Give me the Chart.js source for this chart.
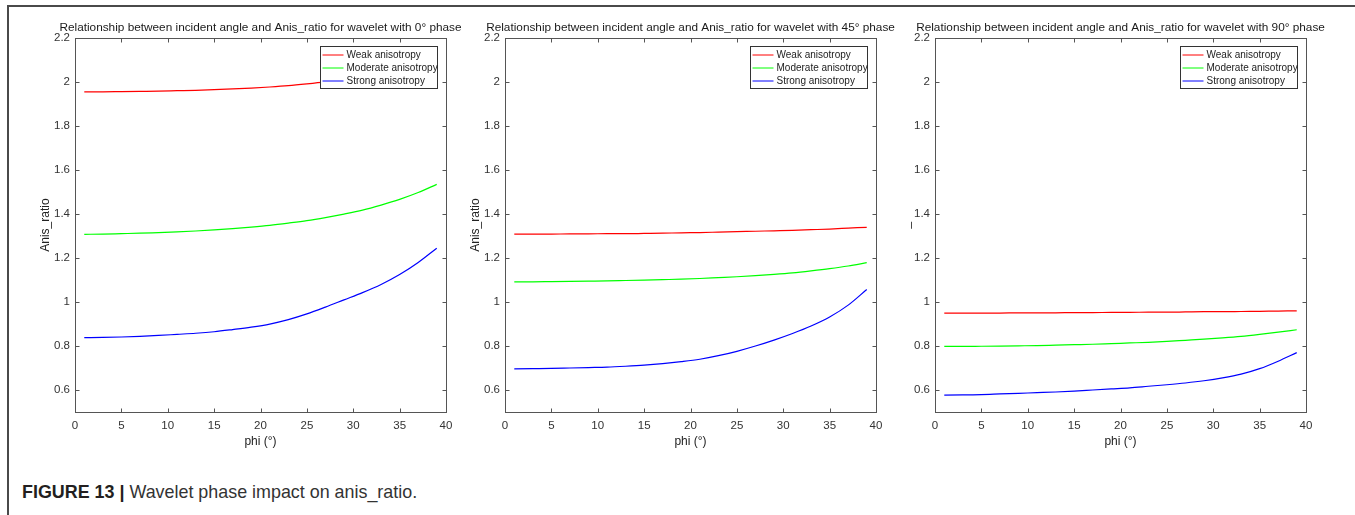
<!DOCTYPE html>
<html>
<head>
<meta charset="utf-8">
<script src="https://cdn.jsdelivr.net/npm/chart.js@4/dist/chart.umd.min.js"></script>
<style>
body { margin: 0; background: #fff; }
#page { position: relative; width: 1355px; height: 515px; overflow: hidden; }
#frame { position: absolute; left: 7px; top: 5px; width: 1400px; height: 600px; border-top: 2px solid #4a4a4a; border-left: 2px solid #4a4a4a; }
canvas { position: absolute; top: 0; }
#caption { position: absolute; left: 22px; top: 482px; font: 17.9px "Liberation Sans", Arial, sans-serif; color: #333; white-space: nowrap; }
#caption b { color: #231f20; }
</style>
</head>
<body>
<div id="page">
  <div id="frame"></div>
  <canvas id="c0" width="497" height="460" style="left:12px"></canvas>
  <canvas id="c1" width="497" height="460" style="left:442px"></canvas>
  <canvas id="c2" width="497" height="460" style="left:872px"></canvas>
  <div id="caption"><b>FIGURE 13 |</b> Wavelet phase impact on anis_ratio.</div>
</div>
<script>
// incident angle, degrees
const phi = [1, 3, 5, 7, 9, 11, 13, 15, 17, 19, 21, 23, 25, 27, 29, 31, 33, 35, 37, 39];
const xTicks = [0, 5, 10, 15, 20, 25, 30, 35, 40];
const yTicks = [0.6, 0.8, 1, 1.2, 1.4, 1.6, 1.8, 2, 2.2];
const seriesNames = ['Weak anisotropy', 'Moderate anisotropy', 'Strong anisotropy'];
const seriesColors = ['#ff0000', '#00ff00', '#0000ff'];

// 0 deg phase
const weak0 = [1.956, 1.956, 1.957, 1.958, 1.959, 1.961, 1.963, 1.966, 1.969, 1.973, 1.978, 1.984, 1.992, 2.001, 2.012, 2.024, 2.038, 2.055, 2.075, 2.098];
const moderate0 = [1.308, 1.309, 1.311, 1.313, 1.316, 1.319, 1.323, 1.328, 1.334, 1.341, 1.349, 1.359, 1.370, 1.384, 1.400, 1.418, 1.441, 1.467, 1.498, 1.535];
const strong0 = [0.838, 0.839, 0.841, 0.844, 0.848, 0.853, 0.858, 0.865, 0.875, 0.886, 0.900, 0.920, 0.946, 0.977, 1.010, 1.043, 1.080, 1.125, 1.180, 1.245];

// 45 deg phase
const weak45 = [1.309, 1.309, 1.309, 1.310, 1.310, 1.311, 1.311, 1.312, 1.313, 1.315, 1.316, 1.318, 1.320, 1.322, 1.324, 1.326, 1.329, 1.332, 1.336, 1.340];
const moderate45 = [1.092, 1.092, 1.093, 1.094, 1.095, 1.096, 1.098, 1.100, 1.102, 1.104, 1.107, 1.111, 1.115, 1.120, 1.126, 1.133, 1.142, 1.152, 1.164, 1.179];
const strong45 = [0.696, 0.697, 0.698, 0.700, 0.702, 0.704, 0.708, 0.713, 0.720, 0.729, 0.740, 0.756, 0.776, 0.800, 0.827, 0.857, 0.891, 0.932, 0.986, 1.057];

// 90 deg phase
const weak90 = [0.950, 0.950, 0.950, 0.950, 0.951, 0.951, 0.951, 0.952, 0.952, 0.953, 0.953, 0.954, 0.954, 0.955, 0.956, 0.956, 0.957, 0.958, 0.959, 0.960];
const moderate90 = [0.798, 0.798, 0.799, 0.800, 0.801, 0.802, 0.804, 0.806, 0.808, 0.811, 0.814, 0.817, 0.821, 0.826, 0.831, 0.837, 0.844, 0.853, 0.863, 0.874];
const strong90 = [0.577, 0.578, 0.579, 0.582, 0.585, 0.588, 0.591, 0.595, 0.600, 0.605, 0.610, 0.617, 0.624, 0.632, 0.642, 0.655, 0.672, 0.697, 0.731, 0.770];

const FONT = '"Liberation Sans", Arial, sans-serif';
const AXIS = '#555';

// MATLAB style legend box in the top right corner
const boxLegend = {
    id: 'boxLegend',
    afterDatasetsDraw(chart) {
        const { ctx, chartArea: a } = chart;
        const w = 117, h = 42;
        const x = Math.round(a.right - 9 - w) + 0.5, y = Math.round(a.top + 8) + 0.5;
        ctx.save();
        ctx.fillStyle = '#fff';
        ctx.fillRect(x, y, w, h);
        ctx.strokeStyle = '#333';
        ctx.lineWidth = 1;
        ctx.strokeRect(x, y, w, h);
        ctx.font = '10px ' + FONT;
        ctx.textBaseline = 'middle';
        chart.data.datasets.forEach((ds, i) => {
            const ly = Math.round(y + 8 + i * 13.4);
            ctx.strokeStyle = ds.borderColor;
            ctx.beginPath();
            ctx.moveTo(x + 2, ly);
            ctx.lineTo(x + 23, ly);
            ctx.stroke();
            ctx.fillStyle = '#222';
            ctx.fillText(ds.label, x + 26, ly);
        });
        ctx.restore();
    }
};

// box round the axes with inward ticks on all four sides
const boxAxes = {
    id: 'boxAxes',
    afterDraw(chart) {
        const { ctx, chartArea: a, scales } = chart;
        const l = Math.round(a.left) + 0.5, r = Math.round(a.right) + 0.5;
        const t = Math.round(a.top) + 0.5, b = Math.round(a.bottom) + 0.5;
        ctx.save();
        ctx.strokeStyle = AXIS;
        ctx.lineWidth = 1;
        ctx.strokeRect(l, t, r - l, b - t);
        ctx.beginPath();
        xTicks.forEach(v => {
            const px = Math.round(scales.x.getPixelForValue(v)) + 0.5;
            ctx.moveTo(px, b); ctx.lineTo(px, b - 4);
            ctx.moveTo(px, t); ctx.lineTo(px, t + 4);
        });
        yTicks.forEach(v => {
            const py = Math.round(scales.y.getPixelForValue(v)) + 0.5;
            ctx.moveTo(l, py); ctx.lineTo(l + 4, py);
            ctx.moveTo(r, py); ctx.lineTo(r - 4, py);
        });
        ctx.stroke();
        ctx.restore();
    }
};

function makePanel(id, title, yTitle, weak, moderate, strong) {
    const values = [weak, moderate, strong];
    new Chart(document.getElementById(id), {
        type: 'line',
        data: {
            datasets: values.map((vals, i) => ({
                label: seriesNames[i],
                data: phi.map((p, j) => ({ x: p, y: vals[j] })),
                borderColor: seriesColors[i],
                borderWidth: 1.2,
                pointRadius: 0,
                cubicInterpolationMode: 'monotone',
                fill: false
            }))
        },
        options: {
            responsive: false,
            animation: false,
            devicePixelRatio: 1,
            layout: { padding: 0 },
            plugins: {
                legend: { display: false },
                tooltip: { enabled: false },
                title: {
                    display: true,
                    text: title,
                    color: '#1a1a1a',
                    font: { family: FONT, size: 11.8, weight: 'normal', lineHeight: 1.2 },
                    padding: { top: 21, bottom: 3 }
                }
            },
            scales: {
                x: {
                    type: 'linear',
                    min: 0,
                    max: 40,
                    afterBuildTicks: s => { s.ticks = xTicks.map(v => ({ value: v })); },
                    afterFit: s => { s.height = 48; },
                    grid: { display: false, drawTicks: false },
                    border: { display: false },
                    ticks: { color: '#333', padding: 7, font: { family: FONT, size: 11.5 }, maxRotation: 0, callback: v => String(v) },
                    title: { display: true, text: 'phi (°)', color: '#222', font: { family: FONT, size: 12 }, padding: { top: 0, bottom: 11 } }
                },
                y: {
                    type: 'linear',
                    min: 0.5,
                    max: 2.2,
                    afterBuildTicks: s => { s.ticks = yTicks.map(v => ({ value: v })); },
                    afterFit: s => { s.width = 63; },
                    grid: { display: false, drawTicks: false },
                    border: { display: false },
                    ticks: { color: '#333', padding: 5, font: { family: FONT, size: 11.5 }, callback: v => String(v) },
                    title: { display: true, text: yTitle, color: '#222', font: { family: FONT, size: 12 }, padding: { top: 26, bottom: 0 } }
                },
                // empty right axis, keeps the plot centred under its title
                y2: {
                    position: 'right',
                    afterFit: s => { s.width = 63; },
                    grid: { display: false, drawTicks: false },
                    border: { display: false },
                    ticks: { display: false }
                }
            }
        },
        plugins: [boxLegend, boxAxes]
    });
}

makePanel('c0', 'Relationship between incident angle and Anis_ratio for wavelet with 0° phase', 'Anis_ratio', weak0, moderate0, strong0);
makePanel('c1', 'Relationship between incident angle and Anis_ratio for wavelet with 45° phase', 'Anis_ratio', weak45, moderate45, strong45);
makePanel('c2', 'Relationship between incident angle and Anis_ratio for wavelet with 90° phase', '_', weak90, moderate90, strong90);
</script>
</body>
</html>
